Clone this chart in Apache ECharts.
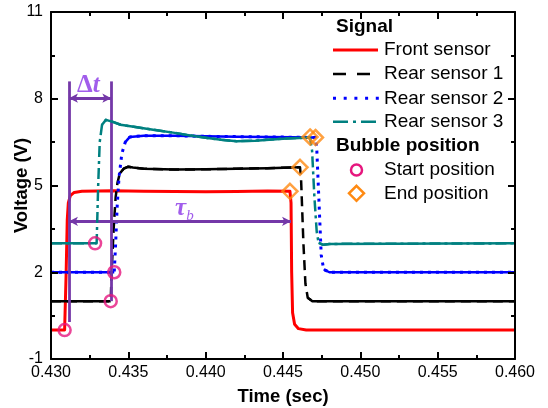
<!DOCTYPE html>
<html><head><meta charset="utf-8">
<script src="https://cdn.jsdelivr.net/npm/echarts@6/dist/echarts.min.js"></script>
<style>html,body{margin:0;padding:0;background:#fff}#c{width:548px;height:408px}</style>
</head><body><div id="c"></div>
<script>
// ---- data (time in s, voltage in V) ----
const frontSensor = [[0.4300,0.0],[0.43088,0.0],[0.43098,2.0],[0.43105,3.8],[0.43112,4.4],[0.43125,4.65],[0.43150,4.76],[0.4320,4.80],[0.4340,4.82],[0.4360,4.80],[0.4380,4.79],[0.4400,4.78],[0.4420,4.79],[0.4440,4.81],[0.44545,4.80],[0.44552,4.4],[0.44556,2.0],[0.44562,0.6],[0.44575,0.2],[0.4460,0.05],[0.4465,0.0],[0.4600,0.0]];
const rearSensor1 = [[0.4300,1.0],[0.43386,1.0],[0.43392,2.0],[0.43405,3.5],[0.43418,4.6],[0.43430,5.1],[0.43445,5.42],[0.4347,5.58],[0.4350,5.65],[0.4353,5.62],[0.4360,5.58],[0.4380,5.55],[0.4400,5.56],[0.4420,5.58],[0.4440,5.60],[0.4461,5.63],[0.44617,5.2],[0.44632,3.0],[0.44645,1.6],[0.4466,1.12],[0.4469,1.0],[0.4600,1.0]];
const rearSensor2 = [[0.4300,2.0],[0.43409,2.0],[0.43418,3.0],[0.43428,4.3],[0.4344,5.3],[0.43458,6.1],[0.4348,6.5],[0.4351,6.68],[0.4360,6.72],[0.4380,6.72],[0.4400,6.70],[0.4420,6.69],[0.4440,6.68],[0.4471,6.66],[0.44718,6.3],[0.44733,4.4],[0.44747,2.6],[0.44763,2.1],[0.4480,2.0],[0.4600,2.0]];
const rearSensor3 = [[0.4300,3.0],[0.43295,3.0],[0.43305,5.0],[0.43315,6.5],[0.4333,7.1],[0.43355,7.27],[0.4340,7.2],[0.4345,7.1],[0.4366,6.93],[0.4380,6.82],[0.4390,6.73],[0.4400,6.65],[0.4410,6.58],[0.4420,6.53],[0.4432,6.55],[0.4450,6.62],[0.44675,6.66],[0.44688,6.2],[0.44703,4.6],[0.44718,3.4],[0.4473,3.02],[0.4476,2.95],[0.4480,2.98],[0.4600,3.0]];
const startPositions = [[0.43088,0.0],[0.43386,1.0],[0.43409,2.0],[0.43285,3.0]];
const endPositions = [[0.44545,4.80],[0.4461,5.63],[0.4471,6.66],[0.44675,6.68]];
// axis ranges
const X_MIN = 0.430, X_MAX = 0.460, X_STEP = 0.005;
const Y_MIN = -1, Y_MAX = 11, Y_STEP = 3;
// annotation (data coordinates)
const guideTimes = [0.43116, 0.43390];
const guideTop = 8.6;
const guideBottoms = [0.28, 1.0];
const deltaTArrowV = 8.02;
const tauArrow = [0.43116, 0.44552, 3.76];
const labelDeltaT = [0.43168, 8.45];
const labelTau = [0.43802, 4.20];

const FONT = 'Liberation Sans, Arial, sans-serif';
const SERIF = 'Liberation Serif, Times New Roman, serif';
const PURPLE = '#7438a8';
const PURPLE_TXT = '#8a35e6';

function flatOnly(d, thr){
  const out=[]; let last=-1;
  for(let i=0;i<d.length-1;i++){
    const a=d[i], b=d[i+1];
    const slope=Math.abs(b[1]-a[1])/((b[0]-a[0])*1000);
    if(slope<thr){
      if(last!==i){ if(out.length) out.push([a[0],'-']); out.push(a); }
      out.push(b); last=i+1;
    }
  }
  return out;
}

const axLine = ()=>({show:true,onZero:false,lineStyle:{color:'#000',width:2}});
const axTick = ()=>({show:true,inside:true,length:7,lineStyle:{color:'#000',width:2}});
const axMinor = ()=>({show:true,splitNumber:2,length:4,lineStyle:{color:'#000',width:2}});

const chart = echarts.init(document.getElementById('c'));

function lineSeries(name, data, color, width, type, z){
  return {name, type:'line', data, showSymbol:false, symbol:'none', z, silent:true,
    lineStyle:{color, width, type, cap:'butt', join:'round'}, animation:false};
}

// tick marks as markLine segments (positions from axis min/step; length converted from px)
const PLOT_W = 548-51-33, PLOT_H = 408-12-49;
const dxPx = (X_MAX-X_MIN)/PLOT_W, dyPx = (Y_MAX-Y_MIN)/PLOT_H;
const tickSegs = [];
for(let k=0;k<=Math.round((X_MAX-X_MIN)/X_STEP)*2;k++){
  const v = X_MIN + k*X_STEP/2, L = (k%2===0?7:4)*dyPx;
  tickSegs.push([{coord:[v,Y_MIN]},{coord:[v,Y_MIN+L]}]);
  tickSegs.push([{coord:[v,Y_MAX]},{coord:[v,Y_MAX-L]}]);
}
for(let k=0;k<=Math.round((Y_MAX-Y_MIN)/Y_STEP)*2;k++){
  const v = Y_MIN + k*Y_STEP/2, L = (k%2===0?7:4)*dxPx;
  tickSegs.push([{coord:[X_MIN,v]},{coord:[X_MIN+L,v]}]);
  tickSegs.push([{coord:[X_MAX,v]},{coord:[X_MAX-L,v]}]);
}

const series = [
  lineSeries('Front sensor', frontSensor, '#ff0000', 3, 'solid', 2),
  lineSeries('Rear sensor 1', rearSensor1, '#000000', 2.5, [10,6], 3),
  lineSeries('r1s', flatOnly(rearSensor1,1.5), '#000000', 2.5, 'solid', 3),
  lineSeries('Rear sensor 2', rearSensor2, '#0000ff', 3, [3,5], 4),
  lineSeries('r2s', flatOnly(rearSensor2,1.5), '#0000ff', 2.5, 'solid', 4),
  lineSeries('Rear sensor 3', rearSensor3, '#008080', 2.5, [11,4,3,4], 5),
  lineSeries('r3s', flatOnly(rearSensor3,1.5), '#008080', 2.5, 'solid', 5),
  {
    name:'annot', type:'line', data:[], z:6, silent:true, animation:false,
    markLine:{
      silent:true, animation:false, symbol:['none','none'],
      label:{show:false},
      lineStyle:{color:PURPLE,width:2.8,type:'solid'},
      data:[
        [{coord:[guideTimes[0],guideTop]},{coord:[guideTimes[0],guideBottoms[0]]}],
        [{coord:[guideTimes[1],guideTop]},{coord:[guideTimes[1],guideBottoms[1]]}],
        [{coord:[guideTimes[0],deltaTArrowV],symbol:'arrow',symbolSize:[7,9]},{coord:[guideTimes[1],deltaTArrowV],symbol:'arrow',symbolSize:[7,9]}],
        [{coord:[tauArrow[0],tauArrow[2]],symbol:'arrow',symbolSize:[7,9]},{coord:[tauArrow[1],tauArrow[2]],symbol:'arrow',symbolSize:[7,9]}]
      ]
    }
  },
  {
    name:'ticks', type:'line', data:[], z:9, silent:true, animation:false,
    markLine:{silent:true, animation:false, symbol:['none','none'], label:{show:false},
      lineStyle:{color:'#000',width:2,type:'solid'}, data:tickSegs}
  },
  {
    name:'labels', type:'scatter', z:7, silent:true, animation:false, symbolSize:1,
    itemStyle:{color:'rgba(0,0,0,0)'},
    data:[[labelDeltaT[0],labelDeltaT[1],'dt'],[labelTau[0],labelTau[1],'tau']],
    label:{show:true, position:'inside', align:'left', verticalAlign:'middle',
      formatter:p=> p.value[2]==='dt' ? '{d|Δ}{i|t}' : '{i|τ}{s|b}',
      rich:{
        d:{fontFamily:SERIF,fontSize:25,fontWeight:'bold',color:PURPLE_TXT},
        i:{fontFamily:SERIF,fontSize:25,fontWeight:'bold',fontStyle:'italic',color:PURPLE_TXT},
        s:{fontFamily:SERIF,fontSize:15,fontStyle:'italic',color:PURPLE_TXT,padding:[14,0,0,0]}
      }}
  },
  {
    name:'Start position', type:'scatter', data:startPositions, z:8, silent:true, animation:false,
    symbol:'circle', symbolSize:12,
    itemStyle:{color:'rgba(0,0,0,0)',borderColor:'#e6177e',borderWidth:2.5}
  },
  {
    name:'End position', type:'scatter', data:endPositions, z:8, silent:true, animation:false,
    symbol:'diamond', symbolSize:15,
    itemStyle:{color:'rgba(0,0,0,0)',borderColor:'#ff8a12',borderWidth:2.5}
  }
];

// legend drawn as graphic (with group headings)
const LX = 333, TX = 384, HX = 336;
const rowY = [26.7, 50, 74, 98.3, 121.7, 145.7, 170, 193.3];
const txt = (x,y,s,bold)=>({type:'text',x,y,silent:true,style:{text:s,font:(bold?'bold ':'')+'19px '+FONT,fill:'#000',textVerticalAlign:'middle',verticalAlign:'middle'}});
const seg = (y,color,w,dash,x2)=>({type:'line',silent:true,shape:{x1:LX,y1:y,x2:x2||378,y2:y},style:{stroke:color,lineWidth:w,lineDash:dash||null,lineCap:'butt'}});
const legendEls = [
  txt(HX,rowY[0],'Signal',true),
  seg(rowY[1],'#ff0000',3), txt(TX,rowY[1],'Front sensor'),
  seg(rowY[2],'#000',2.5,[13,11],370), txt(TX,rowY[2],'Rear sensor 1'),
  seg(rowY[3],'#0000ff',3,[3,7.7],380), txt(TX,rowY[3],'Rear sensor 2'),
  seg(rowY[4],'#008080',2.5,[15,5,3,5]), txt(TX,rowY[4],'Rear sensor 3'),
  txt(HX,rowY[5],'Bubble position',true),
  {type:'circle',silent:true,shape:{cx:356.5,cy:rowY[6],r:5.5},style:{fill:'none',stroke:'#e6177e',lineWidth:2.5}},
  txt(TX,rowY[6],'Start position'),
  {type:'polygon',silent:true,shape:{points:[[356.5,rowY[7]-7.5],[364,rowY[7]],[356.5,rowY[7]+7.5],[349,rowY[7]]]},style:{fill:'none',stroke:'#ff8a12',lineWidth:2.5}},
  txt(TX,rowY[7],'End position')
];

chart.setOption({
  animation:false,
  backgroundColor:'#fff',
  grid:{left:51,right:33,top:12,bottom:49,outerBoundsMode:'none',containLabel:false},
  xAxis:[
    {type:'value',position:'bottom',min:X_MIN,max:X_MAX,interval:X_STEP,z:10,
      axisLine:axLine(),axisTick:axTick(),minorTick:axMinor(),splitLine:{show:false},
      axisLabel:{formatter:v=>v.toFixed(3),fontSize:16,color:'#000',margin:6,fontFamily:FONT},
      name:'Time (sec)',nameLocation:'middle',nameGap:28,nameMoveOverlap:false,
      nameTextStyle:{fontSize:18.5,fontWeight:'bold',color:'#000',fontFamily:FONT}},
    {type:'value',position:'top',min:X_MIN,max:X_MAX,interval:X_STEP,z:10,
      axisLine:axLine(),axisTick:axTick(),minorTick:axMinor(),splitLine:{show:false},axisLabel:{show:false}}
  ],
  yAxis:[
    {type:'value',position:'left',min:Y_MIN,max:Y_MAX,interval:Y_STEP,z:10,
      axisLine:axLine(),axisTick:axTick(),minorTick:axMinor(),splitLine:{show:false},
      axisLabel:{fontSize:16,color:'#000',margin:8,fontFamily:FONT},
      name:'Voltage (V)',nameLocation:'middle',nameGap:20,nameMoveOverlap:false,
      nameTextStyle:{fontSize:18.5,fontWeight:'bold',color:'#000',fontFamily:FONT}},
    {type:'value',position:'right',min:Y_MIN,max:Y_MAX,interval:Y_STEP,z:10,
      axisLine:axLine(),axisTick:axTick(),minorTick:axMinor(),splitLine:{show:false},axisLabel:{show:false}}
  ],
  series,
  graphic: legendEls
});
</script></body></html>
